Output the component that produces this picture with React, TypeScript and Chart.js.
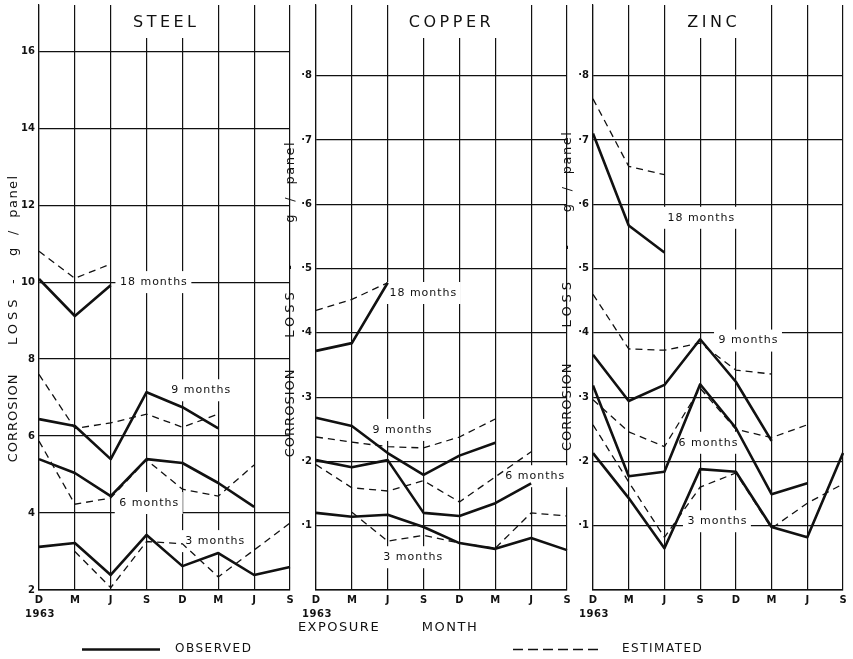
import React, { useEffect, useRef } from "react";
import { Chart, registerables } from "chart.js";

Chart.register(...registerables);

const FONT = "'DejaVu Sans', sans-serif";

const months = ["D", "M", "J", "S", "D", "M", "J", "S"];

const steelTicks = [2, 4, 6, 8, 10, 12, 14, 16];
const steelTickLabels = ["2", "4", "6", "8", "10", "12", "14", "16"];
const metalTicks = [0, 0.1, 0.2, 0.3, 0.4, 0.5, 0.6, 0.7, 0.8];
const metalTickLabels = ["", "·1", "·2", "·3", "·4", "·5", "·6", "·7", "·8"];

// STEEL (g / panel)
const steel18Obs = [10.08, 9.12, 9.92];
const steel18Est = [10.8, 10.1, 10.47];
const steel9Obs = [6.44, 6.26, 5.4, 7.14, 6.75, 6.2];
const steel9Est = [7.6, 6.2, 6.34, 6.57, 6.23, 6.57];
const steel6Obs = [5.4, 5.04, 4.44, 5.4, 5.3, 4.78, 4.16];
const steel6Est = [5.87, 4.23, 4.39, 5.38, 4.62, 4.44, 5.25];
const steel3Obs = [3.12, 3.22, 2.39, 3.43, 2.62, 2.96, 2.39, 2.6];
const steel3Est = [null, 3.0, 2.06, 3.26, 3.2, 2.34, 3.04, 3.74];

// COPPER
const copper18Obs = [0.372, 0.384, 0.478];
const copper18Est = [0.435, 0.452, 0.478];
const copper9Obs = [0.268, 0.255, 0.213, 0.179, 0.209, 0.229];
const copper9Est = [0.238, 0.23, 0.223, 0.221, 0.238, 0.266];
const copper6Obs = [0.202, 0.191, 0.202, 0.12, 0.115, 0.135, 0.166];
const copper6Est = [0.195, 0.159, 0.154, 0.17, 0.137, 0.176, 0.215];
const copper3Obs = [0.12, 0.114, 0.117, 0.098, 0.073, 0.064, 0.081, 0.062];
const copper3Est = [null, 0.121, 0.076, 0.085, 0.073, 0.065, 0.12, 0.115];

// ZINC
const zinc18Obs = [0.71, 0.567, 0.525];
const zinc18Est = [0.764, 0.659, 0.646];
const zinc9Obs = [0.366, 0.294, 0.319, 0.39, 0.324, 0.232];
const zinc9Est = [0.46, 0.375, 0.373, 0.384, 0.342, 0.336];
const zinc6Obs = [0.318, 0.177, 0.184, 0.32, 0.252, 0.149, 0.166];
const zinc6Est = [0.296, 0.246, 0.223, 0.314, 0.25, 0.237, 0.257];
const zinc3Obs = [0.213, 0.143, 0.065, 0.188, 0.184, 0.098, 0.082, 0.213];
const zinc3Est = [0.257, 0.168, 0.082, 0.16, 0.182, 0.096, 0.135, 0.165];

type Label = { text: string; x: number; y: number };
type Panel = {
  title: string;
  titleX: number;
  yMin: number;
  yMax: number;
  ticks: number[];
  tickLabels: string[];
  observed: (number | null)[][];
  estimated: (number | null)[][];
  labels: Label[];
  axisTitle: Label[]; // x unused, y in data units
  padLeft: number;
  padRight: number;
  global?: boolean;
};

const panels: Panel[] = [
  {
    title: "STEEL",
    titleX: 3.5,
    yMin: 2,
    yMax: 17.2,
    ticks: steelTicks,
    tickLabels: steelTickLabels,
    observed: [steel18Obs, steel9Obs, steel6Obs, steel3Obs],
    estimated: [steel18Est, steel9Est, steel6Est, steel3Est],
    labels: [
      { text: "18 months", x: 3.19, y: 10.0 },
      { text: "9 months", x: 4.51, y: 7.19 },
      { text: "6 months", x: 3.06, y: 4.26 },
      { text: "3 months", x: 4.9, y: 3.27 },
    ],
    axisTitle: [
      { text: "CORROSION", x: 0, y: 6.47 },
      { text: "LOSS", x: 0, y: 9.01 },
      { text: "-", x: 0, y: 10.03 },
      { text: "g  /  panel", x: 0, y: 11.74 },
    ],
    padLeft: 9,
    padRight: 563,
  },
  {
    title: "COPPER",
    titleX: 3.73,
    yMin: 0,
    yMax: 0.91,
    ticks: metalTicks,
    tickLabels: metalTickLabels,
    observed: [copper18Obs, copper9Obs, copper6Obs, copper3Obs],
    estimated: [copper18Est, copper9Est, copper6Est, copper3Est],
    labels: [
      { text: "18 months", x: 2.98, y: 0.462 },
      { text: "9 months", x: 2.4, y: 0.249 },
      { text: "6 months", x: 6.1, y: 0.177 },
      { text: "3 months", x: 2.7, y: 0.051 },
    ],
    axisTitle: [
      { text: "CORROSION", x: 0, y: 0.2755 },
      { text: "LOSS", x: 0, y: 0.431 },
      { text: "-", x: 0, y: 0.503 },
      { text: "g  /  panel", x: 0, y: 0.635 },
    ],
    padLeft: 286,
    padRight: 286,
    global: true,
  },
  {
    title: "ZINC",
    titleX: 3.33,
    yMin: 0,
    yMax: 0.91,
    ticks: metalTicks,
    tickLabels: metalTickLabels,
    observed: [zinc18Obs, zinc9Obs, zinc6Obs, zinc3Obs],
    estimated: [zinc18Est, zinc9Est, zinc6Est, zinc3Est],
    labels: [
      { text: "18 months", x: 3.02, y: 0.579 },
      { text: "9 months", x: 4.34, y: 0.388 },
      { text: "6 months", x: 3.22, y: 0.229 },
      { text: "3 months", x: 3.47, y: 0.107 },
    ],
    axisTitle: [
      { text: "CORROSION", x: 0, y: 0.285 },
      { text: "LOSS", x: 0, y: 0.447 },
      { text: "-", x: 0, y: 0.534 },
      { text: "g  /  panel", x: 0, y: 0.651 },
    ],
    padLeft: 563,
    padRight: 10,
  },
];

const TITLE_FONT = `16px ${FONT}`;
const LABEL_FONT = `11px ${FONT}`;

function decorPlugin(p: Panel) {
  return {
    id: "decor",
    beforeDatasetsDraw(chart: any) {
      const ctx: CanvasRenderingContext2D = chart.ctx;
      const xs = chart.scales.x;
      const ys = chart.scales.y;
      const area = chart.chartArea;
      ctx.save();
      ctx.fillStyle = "#ffffff";
      ctx.font = TITLE_FONT;
      (ctx as any).letterSpacing = "3.5px";
      const tw = ctx.measureText(p.title).width;
      const tx = xs.getPixelForValue(p.titleX);
      ctx.fillRect(tx - tw / 2 - 6, 0, tw + 12, area.top + 33);
      ctx.font = LABEL_FONT;
      (ctx as any).letterSpacing = "1px";
      for (const l of p.labels) {
        const w = ctx.measureText(l.text).width;
        const px = xs.getPixelForValue(l.x);
        const py = ys.getPixelForValue(l.y);
        ctx.fillRect(px - w / 2 - 4, py - 11, w + 8, 22);
      }
      ctx.restore();
    },
    afterDatasetsDraw(chart: any) {
      const ctx: CanvasRenderingContext2D = chart.ctx;
      const xs = chart.scales.x;
      const ys = chart.scales.y;
      const area = chart.chartArea;
      ctx.save();
      ctx.fillStyle = "#111";
      ctx.textAlign = "center";
      ctx.textBaseline = "middle";
      ctx.font = TITLE_FONT;
      (ctx as any).letterSpacing = "3.5px";
      ctx.fillText(p.title, xs.getPixelForValue(p.titleX) + 1.75, area.top + 18);
      ctx.font = LABEL_FONT;
      (ctx as any).letterSpacing = "1px";
      for (const l of p.labels) {
        ctx.fillText(l.text, xs.getPixelForValue(l.x) + 0.5, ys.getPixelForValue(l.y));
      }
      ctx.restore();
    },
    afterDraw(chart: any) {
      const ctx: CanvasRenderingContext2D = chart.ctx;
      const xs = chart.scales.x;
      const ys = chart.scales.y;
      const area = chart.chartArea;
      ctx.save();
      ctx.fillStyle = "#111";
      ctx.textAlign = "center";
      ctx.textBaseline = "middle";
      // rotated axis title
      for (const t of p.axisTitle) {
        ctx.save();
        ctx.translate(area.left - 25, ys.getPixelForValue(t.y));
        ctx.rotate(-Math.PI / 2);
        ctx.font = `13px ${FONT}`;
        (ctx as any).letterSpacing = t.text === "LOSS" ? "4px" : t.text === "CORROSION" ? "1px" : "1.5px";
        ctx.fillText(t.text, 0, 0);
        ctx.restore();
      }
      // year
      ctx.font = `bold 10px ${FONT}`;
      (ctx as any).letterSpacing = "0.5px";
      ctx.fillText("1963", xs.getPixelForValue(0) + 1, area.bottom + 24);
      if (p.global) {
        ctx.font = `13px ${FONT}`;
        (ctx as any).letterSpacing = "1.5px";
        ctx.fillText("EXPOSURE", 339, 628);
        ctx.fillText("MONTH", 450, 628);
        ctx.font = `12px ${FONT}`;
        ctx.textAlign = "left";
        ctx.fillText("OBSERVED", 175, 649);
        ctx.fillText("ESTIMATED", 622, 649);
        ctx.strokeStyle = "#111";
        ctx.lineWidth = 2.6;
        ctx.beginPath();
        ctx.moveTo(82, 649.5);
        ctx.lineTo(160, 649.5);
        ctx.stroke();
        ctx.lineWidth = 1.3;
        ctx.setLineDash([10, 5]);
        ctx.beginPath();
        ctx.moveTo(513, 649.5);
        ctx.lineTo(602, 649.5);
        ctx.stroke();
      }
      ctx.restore();
    },
  };
}

function makeConfig(p: Panel): any {
  const datasets: any[] = [];
  p.observed.forEach((d) =>
    datasets.push({
      data: d,
      borderColor: "#111",
      borderWidth: 2.6,
      pointRadius: 0,
      tension: 0,
      fill: false,
      borderJoinStyle: "round",
    })
  );
  p.estimated.forEach((d) =>
    datasets.push({
      data: d,
      borderColor: "#111",
      borderWidth: 1.3,
      borderDash: [7, 5],
      pointRadius: 0,
      tension: 0,
      fill: false,
    })
  );
  return {
    type: "line",
    data: { labels: months, datasets },
    options: {
      animation: false,
      responsive: false,
      devicePixelRatio: 1,
      events: [],
      layout: { padding: { left: p.padLeft, right: p.padRight, top: 5, bottom: 49 } },
      plugins: { legend: { display: false }, tooltip: { enabled: false }, title: { display: false } },
      scales: {
        x: {
          type: "category",
          offset: false,
          grid: { color: "#111", lineWidth: 1.2, drawTicks: false, offset: false },
          border: { display: true, color: "#111", width: 1.5 },
          ticks: {
            color: "#111",
            font: { family: FONT, size: 10, weight: "bold" },
            padding: 4,
            maxRotation: 0,
            autoSkip: false,
          },
          afterFit: (s: any) => {
            s.height = 20;
            s.paddingLeft = 0;
            s.paddingRight = 0;
          },
        },
        y: {
          type: "linear",
          min: p.yMin,
          max: p.yMax,
          grid: { color: "#111", lineWidth: 1.2, drawTicks: false },
          border: { display: true, color: "#111", width: 1.2 },
          afterBuildTicks: (s: any) => {
            s.ticks = p.ticks.map((v) => ({ value: v }));
          },
          ticks: {
            color: "#111",
            font: { family: FONT, size: 10, weight: "bold" },
            padding: 4,
            callback: (v: number) => {
              const i = p.ticks.findIndex((t) => Math.abs(t - v) < 1e-9);
              return i >= 0 ? p.tickLabels[i] : "";
            },
          },
          afterFit: (s: any) => {
            s.width = 30;
            s.paddingTop = 0;
            s.paddingBottom = 0;
          },
        },
      },
    },
    plugins: [decorPlugin(p)],
  };
}

export default function App() {
  const canvases = useRef<(HTMLCanvasElement | null)[]>([]);
  useEffect(() => {
    const charts = panels.map((p, i) => new Chart(canvases.current[i] as HTMLCanvasElement, makeConfig(p)));
    return () => charts.forEach((c) => c.destroy());
  }, []);
  return (
    <div
      style={{
        position: "fixed",
        left: 0,
        top: 0,
        width: 853,
        height: 659,
        background: "#ffffff",
        overflow: "hidden",
      }}
    >
      {panels.map((p, i) => (
        <canvas
          key={p.title}
          ref={(el) => {
            canvases.current[i] = el;
          }}
          width={853}
          height={659}
          style={{ position: "absolute", left: 0, top: 0, width: 853, height: 659 }}
        />
      ))}
    </div>
  );
}
